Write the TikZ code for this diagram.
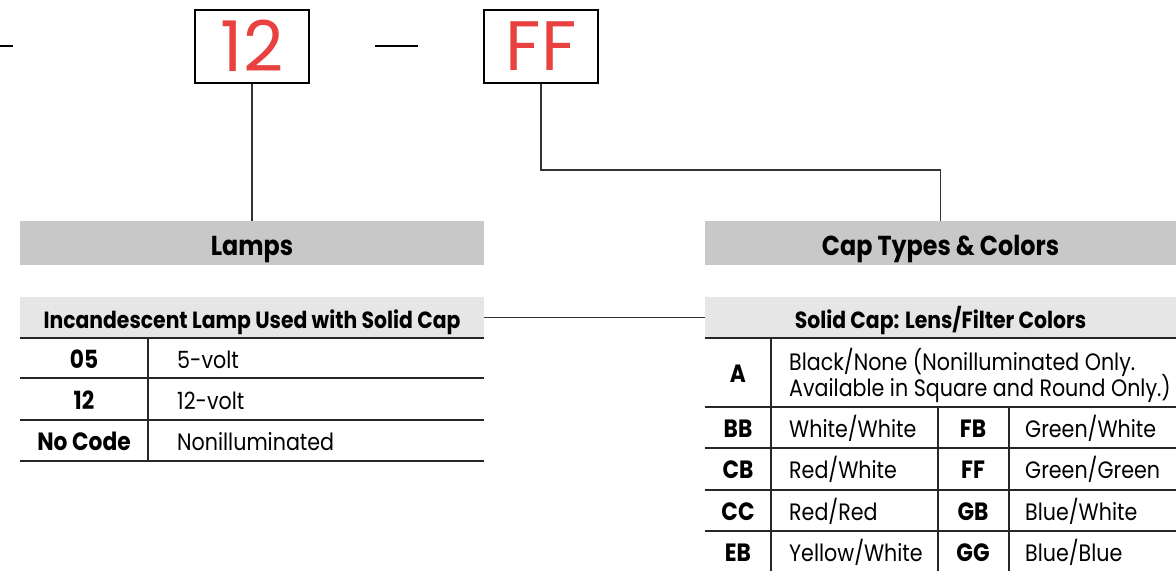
\documentclass[tikz,border=0pt]{standalone}
\usepackage{fontspec}
\setmainfont{Poppins}[FakeStretch=0.87]
\newfontfamily\codefont{Poppins}
\definecolor{codered}{HTML}{E8413F}
\definecolor{hdrgray}{HTML}{C8C8C8}
\definecolor{subgray}{HTML}{E6E6E6}
\definecolor{linegray}{HTML}{333333}
\tikzset{
  codebox/.style={draw=black, line width=2pt, minimum width=114pt, minimum height=73pt, inner sep=0pt, text=codered, font=\codefont\fontsize{70}{70}\selectfont},
  bighdr/.style={fill=hdrgray, minimum height=44pt, inner sep=0pt, text height=24pt, text depth=0pt, font=\bfseries\fontsize{27.4}{27.4}\selectfont},
  subhdr/.style={fill=subgray, minimum height=41pt, inner sep=0pt, text height=22.4pt, text depth=0pt, font=\bfseries\fontsize{23.4}{23.4}\selectfont},
  codetxt/.style={inner sep=0pt, text height=17.5pt, text depth=0pt, font=\bfseries\fontsize{25}{25}\selectfont},
  desctxt/.style={inner sep=0pt, anchor=west, text height=16.6pt, text depth=0pt, font=\fontsize{23.7}{23.7}\selectfont},
  conn/.style={draw=linegray, line width=1.1pt},
  grid/.style={draw=black!85, line width=1.2pt},
  dashmark/.style={draw=black, line width=2pt}
}
\begin{document}
\begin{tikzpicture}[x=1pt,y=-1pt]
\useasboundingbox (0,0) rectangle (1176,571);
% part number
\draw[dashmark] (0,46) -- (13,46);
\node[codebox] (b12) at (252,46) {12};
\draw[dashmark] (375,46) -- (418,46);
\node[codebox] (bFF) at (541,46) {FF};
% headers
\node[bighdr, minimum width=464pt] (lamps) at (252,243) {Lamps};
\node[bighdr, minimum width=471pt] (caps) at (940.5,243) {Cap Types \& Colors};
% connectors
\draw[conn] (b12.south) -- (lamps.north);
\coordinate (bend) at (541,170);
\draw[conn] (bFF.south) -- (bend) -| (caps.north);
% sub headers
\node[subhdr, minimum width=464pt] (t1h) at (252,317.5) {Incandescent Lamp Used with Solid Cap};
\node[subhdr, minimum width=471pt] (t2h) at (940.5,317.5) {Solid Cap: Lens/Filter Colors};
\draw[conn] (t1h.east) -- (t2h.west);
% table 1
\foreach \yy in {338,378,420,461} \draw[grid] (20,\yy) -- (484,\yy);
\draw[grid] (148,338) -- (148,461);
\node[codetxt] (c05) at (84,360) {05};
\node[desctxt] (d05) at (177,360) {5-volt};
\node[codetxt] (c12) at (84,401) {12};
\node[desctxt] (d12) at (177,401) {12-volt};
\node[codetxt] (cnc) at (84,442) {No Code};
\node[desctxt] (dnc) at (177,442) {Nonilluminated};
% table 2
\foreach \yy in {338,407,448,490,531} \draw[grid] (705,\yy) -- (1176,\yy);
\draw[grid] (771,338) -- (771,571);
\draw[grid] (938,407) -- (938,571);
\draw[grid] (1009,407) -- (1009,571);
\node[codetxt] (cA) at (738,374) {A};
\node[desctxt] (dA1) at (789,362) {Black/None (Nonilluminated Only.};
\node[desctxt] (dA2) at (789,388) {Available in Square and Round Only.)};
\node[codetxt] (cBB) at (738,429) {BB};
\node[desctxt] (dBB) at (789,429) {White/White};
\node[codetxt] (cFB) at (973,429) {FB};
\node[desctxt] (dFB) at (1025,429) {Green/White};
\node[codetxt] (cCB) at (738,470) {CB};
\node[desctxt] (dCB) at (789,470) {Red/White};
\node[codetxt] (cFF) at (973,470) {FF};
\node[desctxt] (dFF) at (1025,470) {Green/Green};
\node[codetxt] (cCC) at (738,512) {CC};
\node[desctxt] (dCC) at (789,512) {Red/Red};
\node[codetxt] (cGB) at (973,512) {GB};
\node[desctxt] (dGB) at (1025,512) {Blue/White};
\node[codetxt] (cEB) at (738,553) {EB};
\node[desctxt] (dEB) at (789,553) {Yellow/White};
\node[codetxt] (cGG) at (973,553) {GG};
\node[desctxt] (dGG) at (1025,553) {Blue/Blue};
\end{tikzpicture}
\end{document}
